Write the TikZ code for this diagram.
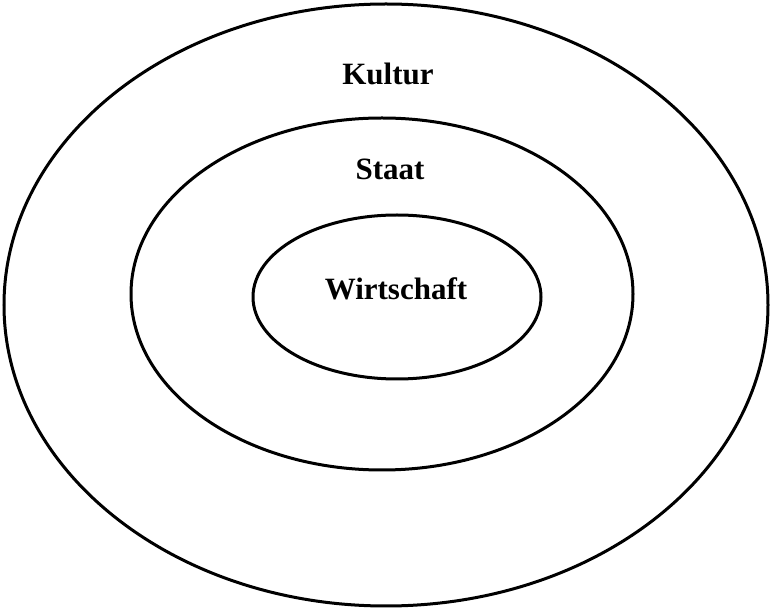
\documentclass[tikz,border=0pt]{standalone}
\usepackage{fontspec}
\setmainfont{Liberation Serif}
\begin{document}
\begin{tikzpicture}[x=1pt,y=-1pt,
  ring/.style={draw=black,line width=3pt},
  lbl/.style={font=\fontsize{31}{36}\selectfont\bfseries,inner sep=0pt,anchor=base}]
\useasboundingbox (0,0) rectangle (772,609);
\draw[ring] (386,305) ellipse [x radius=382,y radius=301];
\draw[ring] (382,294) ellipse [x radius=251,y radius=176];
\draw[ring] (397,297) ellipse [x radius=144,y radius=82];
\node[lbl] (kultur) at (388,85) {Kultur};
\node[lbl] (staat) at (390,180) {Staat};
\node[lbl] (wirt) at (396,300) {Wirtschaft};
\end{tikzpicture}
\end{document}
